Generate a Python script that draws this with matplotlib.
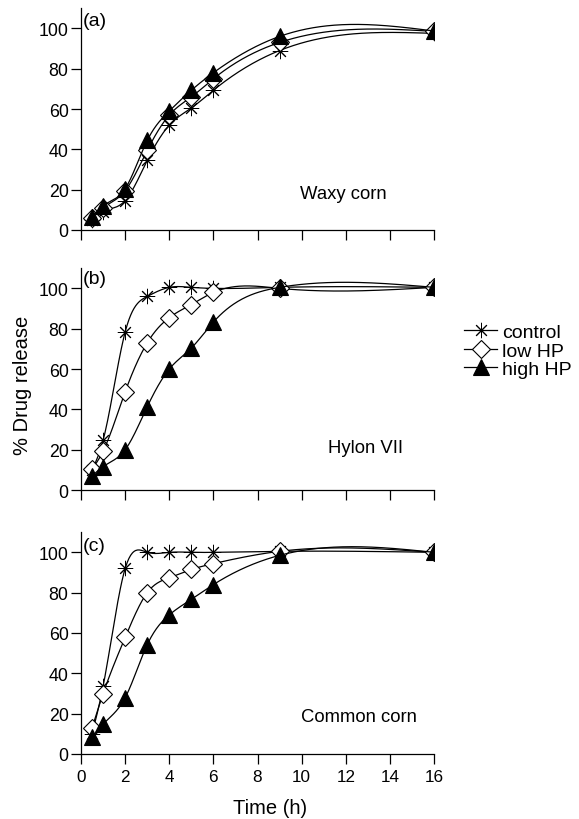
import numpy as np
import matplotlib
matplotlib.use("Agg")
import matplotlib.pyplot as plt

plt.rcParams['font.family'] = ['Liberation Sans', 'DejaVu Sans']
plt.rcParams['font.size'] = 12.5

# sampling times (h)
time = [0.5, 1, 2, 3, 4, 5, 6, 9, 16]

# (a) waxy corn
waxy_control = [5, 9, 14.6, 34.5, 52, 60.5, 69.3, 89, 97.5]
waxy_low = [6, 11, 19.5, 39.5, 57, 66, 75, 93, 98.5]
waxy_high = [6.5, 12, 20.5, 44.4, 59, 69.3, 78, 96, 98.7]

# (b) Hylon VII
hylon_control = [10, 24.7, 78.4, 96, 100.5, 100.5, 100, 100.5, 100.5]
hylon_low = [10.3, 19.3, 48.7, 73, 85.5, 92, 98, 100, 100.5]
hylon_high = [7, 11.6, 20, 41.3, 60, 70.4, 83.3, 100.5, 100.5]

# (c) common corn
common_control = [10, 33.6, 92, 100, 100, 100, 100, 100.5, 100]
common_low = [13, 29.9, 57.8, 80, 87.4, 91.5, 94.4, 100.5, 100]
common_high = [8.2, 14.8, 27.9, 54.2, 69, 76.7, 84, 98.5, 100]

panels = [
    ("(a)", "Waxy corn", (11.9, 18), 104, [waxy_control, waxy_low, waxy_high]),
    ("(b)", "Hylon VII", (12.9, 21), 105, [hylon_control, hylon_low, hylon_high]),
    ("(c)", "Common corn", (12.6, 18.7), 103.5, [common_control, common_low, common_high]),
]
labels = ["control", "low HP", "high HP"]


def natural_spline(x, y, xs):
    x = np.asarray(x, float)
    y = np.asarray(y, float)
    n = len(x)
    h = np.diff(x)
    A = np.zeros((n, n))
    b = np.zeros(n)
    A[0, 0] = A[-1, -1] = 1
    for i in range(1, n - 1):
        A[i, i - 1] = h[i - 1]
        A[i, i] = 2 * (h[i - 1] + h[i])
        A[i, i + 1] = h[i]
        b[i] = 6 * ((y[i + 1] - y[i]) / h[i] - (y[i] - y[i - 1]) / h[i - 1])
    M = np.linalg.solve(A, b)
    idx = np.clip(np.searchsorted(x, xs) - 1, 0, n - 2)
    x0, x1 = x[idx], x[idx + 1]
    hh = x1 - x0
    t0, t1 = x1 - xs, xs - x0
    return (M[idx] * t0**3 / (6 * hh) + M[idx + 1] * t1**3 / (6 * hh)
            + (y[idx] / hh - M[idx] * hh / 6) * t0
            + (y[idx + 1] / hh - M[idx + 1] * hh / 6) * t1)


styles = [
    dict(marker=(8, 2, 0), markersize=11, markerfacecolor='black', markeredgewidth=0.7),
    dict(marker='D', markersize=9, markerfacecolor='white', markeredgewidth=0.8),
    dict(marker='^', markersize=11.5, markerfacecolor='black', markeredgewidth=0.8),
]

fig = plt.figure(figsize=(5.79, 8.2), dpi=100)
bottoms = [0.7183, 0.4012, 0.0793]
xs = np.linspace(time[0], time[-1], 400)

handles = None
for k, (tag, name, pos, tag_y, series) in enumerate(panels):
    ax = fig.add_axes([0.140, bottoms[k], 0.6096, 0.2705])
    hs = []
    for ys, st in zip(series, styles):
        ax.plot(xs, natural_spline(time, ys, xs), color='black', lw=0.9)
        ax.plot(time, ys, linestyle='none', color='black', **st)
        h, = ax.plot([], [], color='black', lw=0.9, **st)
        hs.append(h)
    if k == 1:
        handles = hs
    ax.set_xlim(0, 16)
    ax.set_ylim(0, 110)
    ax.set_xticks(range(0, 17, 2))
    ax.set_yticks(range(0, 101, 20))
    for s in ['top', 'right']:
        ax.spines[s].set_visible(False)
    for s in ['left', 'bottom']:
        ax.spines[s].set_linewidth(0.9)
    ax.tick_params(direction='out', length=7, width=0.9, pad=2)
    ax.tick_params(axis='y', labelsize=12.8)
    ax.tick_params(axis='x', labelsize=12.3, pad=4)
    if k < 2:
        ax.tick_params(axis='x', labelbottom=False)
    ax.text(0.08, tag_y, tag, fontsize=14, va='center', ha='left')
    ax.text(pos[0], pos[1], name, fontsize=13.3, ha='center', va='center')
    ax.patch.set_visible(False)

fig.text(0.038, 0.5305, "% Drug release", rotation=90, ha='center', va='center', fontsize=14.5)
fig.text(0.466, 0.0146, "Time (h)", ha='center', va='center', fontsize=14.5)

fig.legend(handles, labels, loc='center left', bbox_to_anchor=(0.785, 0.571),
           frameon=False, fontsize=14, handlelength=1.7, handletextpad=0.25,
           labelspacing=0.05, borderpad=0)

fig.savefig("out.png", dpi=100)
